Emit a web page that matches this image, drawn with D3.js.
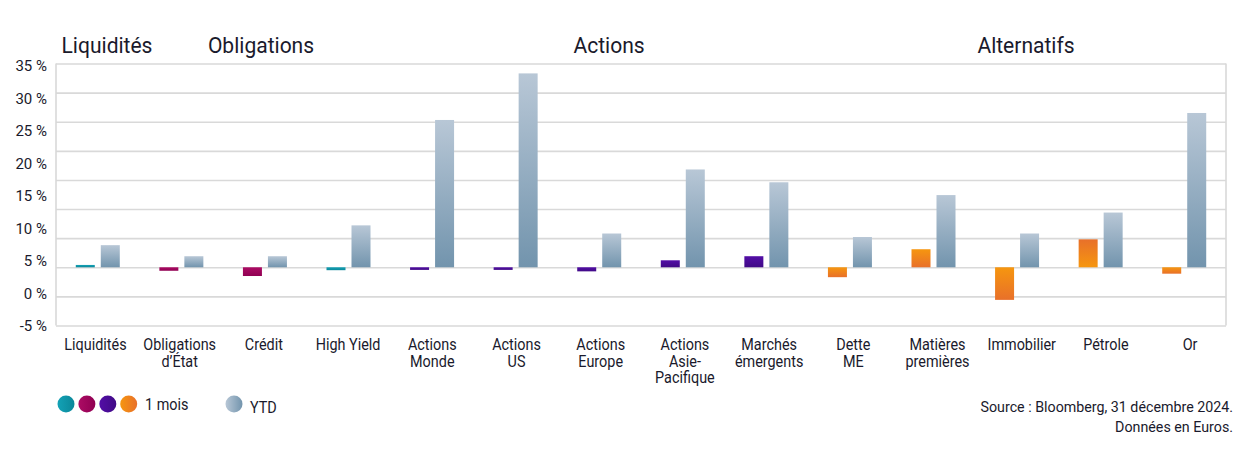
<!DOCTYPE html>
<html>
<head>
<meta charset="utf-8">
<script src="https://cdn.jsdelivr.net/npm/d3@7"></script>
<style>
  html, body { margin: 0; padding: 0; background: #ffffff; }
  svg text { font-family: Roboto, "Liberation Sans", sans-serif; fill: #1a1a2c; }
</style>
</head>
<body>
<svg id="chart" width="1259" height="454"></svg>
<script>
// ---------------- DATA ----------------
const categories = ["Liquidités", "Obligations d’État", "Crédit", "High Yield", "Actions Monde", "Actions US",
  "Actions Europe", "Actions Asie-Pacifique", "Marchés émergents", "Dette ME", "Matières premières",
  "Immobilier", "Pétrole", "Or"];
const categoryLabels = [["Liquidités"], ["Obligations", "d’État"], ["Crédit"], ["High Yield"], ["Actions", "Monde"],
  ["Actions", "US"], ["Actions", "Europe"], ["Actions", "Asie-", "Pacifique"], ["Marchés", "émergents"],
  ["Dette", "ME"], ["Matières", "premières"], ["Immobilier"], ["Pétrole"], ["Or"]];
const oneMonth = [0.4, -0.6, -1.5, -0.5, -0.45, -0.45, -0.7, 1.2, 1.9, -1.7, 3.1, -5.6, 4.8, -1.1];
const ytd = [3.8, 1.9, 1.9, 7.2, 25.3, 33.3, 5.8, 16.8, 14.6, 5.2, 12.4, 5.8, 9.4, 26.5];
const gridValues = [-10, -5, 0, 5, 10, 15, 20, 25, 30, 35];
const tickLabels = [35, 30, 25, 20, 15, 10, 5, 0, -5];
const groupHeaders = ["Liquidités", "Obligations", "Actions", "Alternatifs"];
const legendLabels = ["1 mois", "YTD"];
const sourceLines = ["Source : Bloomberg, 31 décembre 2024.", "Données en Euros."];

// ---------------- STYLE / LAYOUT ----------------
const svg = d3.select("#chart");
const L = 56, R = 1226, T = 63.5, B = 325.5;
const gridColor = "#d9d9d9";

// colour key per category (style)
const colorKey = ["teal", "magenta", "magenta", "teal", "purple", "purple", "purple", "purple", "purple",
  "orange", "orange", "orange", "orange", "orange"];
const flipKey = { "Pétrole": true };

const grads = {
  teal: ["#13a2b6", "#0b8799"],
  magenta: ["#ac0c64", "#900052"],
  purple: ["#530ea6", "#400a86"],
  orange: ["#f6960f", "#e8702a"],
  ytd: ["#b8c7d6", "#7294ad"]
};

const defs = svg.append("defs");
Object.entries(grads).forEach(([k, c]) => {
  const gv = defs.append("linearGradient").attr("id", "v-" + k).attr("x1", 0).attr("y1", 0).attr("x2", 0).attr("y2", 1);
  gv.append("stop").attr("offset", "0%").attr("stop-color", c[0]);
  gv.append("stop").attr("offset", "100%").attr("stop-color", c[1]);
  const gf = defs.append("linearGradient").attr("id", "f-" + k).attr("x1", 0).attr("y1", 0).attr("x2", 0).attr("y2", 1);
  gf.append("stop").attr("offset", "0%").attr("stop-color", c[1]);
  gf.append("stop").attr("offset", "100%").attr("stop-color", c[0]);
  const gh = defs.append("linearGradient").attr("id", "h-" + k).attr("x1", 0).attr("y1", 0).attr("x2", 1).attr("y2", 0);
  gh.append("stop").attr("offset", "0%").attr("stop-color", c[0]);
  gh.append("stop").attr("offset", "100%").attr("stop-color", c[1]);
});

// helper: condensed text
function ctext(parent, x, y, str, size, anchor, sx) {
  const g = parent.append("g").attr("transform", `translate(${x},${y}) scale(${sx || 0.9},1)`);
  return g.append("text").attr("x", 0).attr("y", 0).attr("font-size", size)
    .attr("text-anchor", anchor || "start").text(str);
}

// ---------------- SCALES ----------------
const x = d3.scaleBand().domain(categories).range([L, R]).padding(0);
const y = d3.scaleLinear().domain([-10, 35]).range([B, T]);
const yLab = d3.scaleLinear().domain([-5, 35]).range([325, 65]);
const sub = d3.scaleBand().domain(["m", "y"]).range([-22, 22]).paddingInner(0.24);

// ---------------- GRID ----------------
const gridAxis = d3.axisLeft(y).tickValues(gridValues).tickSize(-(R - L)).tickFormat("");
const gg = svg.append("g").attr("transform", `translate(${L},0)`).call(gridAxis);
gg.select(".domain").remove();
gg.selectAll(".tick line").attr("stroke", gridColor).attr("stroke-width", 1.6);
svg.append("line").attr("x1", L).attr("x2", L).attr("y1", T).attr("y2", B).attr("stroke", gridColor).attr("stroke-width", 1.6);
svg.append("line").attr("x1", R).attr("x2", R).attr("y1", T).attr("y2", B).attr("stroke", gridColor).attr("stroke-width", 1.6);

// ---------------- Y LABELS ----------------
const labAxis = d3.axisLeft(yLab).tickValues(tickLabels).tickSize(0).tickFormat(d => d + " %");
const lg = svg.append("g").attr("transform", `translate(${L - 9},0)`).call(labAxis);
lg.select(".domain").remove();
lg.selectAll(".tick text").each(function () {
  const t = d3.select(this);
  const txt = t.text();
  const tick = d3.select(this.parentNode);
  t.remove();
  const g = tick.append("g").attr("transform", `scale(0.97,1)`);
  g.append("text").attr("x", 0).attr("y", 0).attr("dy", "0.36em").attr("font-size", 15.5)
    .attr("text-anchor", "end").attr("font-family", "Roboto, sans-serif").attr("fill", "#1a1a2c").text(txt);
});

// ---------------- BARS ----------------
const bars = svg.append("g");
categories.forEach((c, i) => {
  const cx = x(c) + x.bandwidth() / 2;
  const k = colorKey[i];
  const v1 = oneMonth[i];
  bars.append("rect")
    .attr("x", cx + sub("m")).attr("width", sub.bandwidth())
    .attr("y", y(Math.max(0, v1))).attr("height", Math.abs(y(v1) - y(0)))
    .attr("fill", `url(#${flipKey[c] ? "f" : "v"}-${k})`);
  const v2 = ytd[i];
  bars.append("rect")
    .attr("x", cx + sub("y")).attr("width", sub.bandwidth())
    .attr("y", y(Math.max(0, v2))).attr("height", Math.abs(y(v2) - y(0)))
    .attr("fill", "url(#v-ytd)");
});

// ---------------- CATEGORY LABELS ----------------
const cl = svg.append("g");
categories.forEach((c, i) => {
  const cx = x(c) + x.bandwidth() / 2 - 2.3 + i * 0.63;
  categoryLabels[i].forEach((line, j) => {
    ctext(cl, cx, 350 + j * 16.5, line, 16, "middle", 0.9);
  });
});

// ---------------- GROUP HEADERS ----------------
const headerX = [107, 261, 609, 1026];
groupHeaders.forEach((h, i) => ctext(svg, headerX[i], 53, h, 22.5, "middle", 0.935));

// ---------------- LEGEND ----------------
const legend = svg.append("g");
["teal", "magenta", "purple", "orange"].forEach((k, i) => {
  legend.append("circle").attr("cx", 66 + i * 20.9).attr("cy", 404).attr("r", 8.5).attr("fill", `url(#h-${k})`);
});
ctext(legend, 145, 410, legendLabels[0], 16, "start", 0.9);
legend.append("circle").attr("cx", 234).attr("cy", 404).attr("r", 8.5).attr("fill", "url(#h-ytd)");
ctext(legend, 250, 413, legendLabels[1], 16, "start", 0.9);

// ---------------- SOURCE ----------------
sourceLines.forEach((s, i) => {
  ctext(svg, 1233, 412 + i * 20, s, 15.5, "end", 0.92).attr("fill", "#333");
});
</script>
</body>
</html>
